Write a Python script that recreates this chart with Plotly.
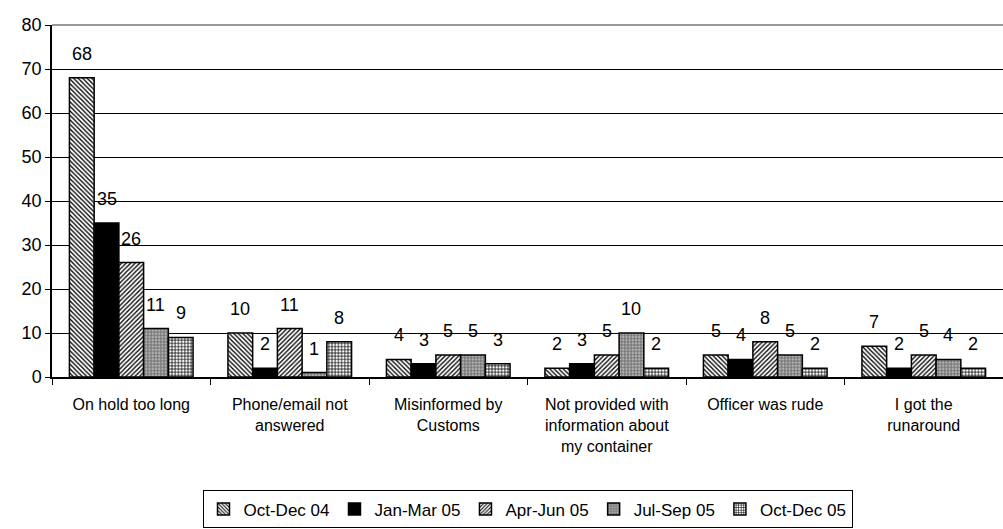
import plotly.graph_objects as go

categories = [
    "On hold too long",
    "Phone/email not<br>answered",
    "Misinformed by<br>Customs",
    "Not provided with<br>information about<br>my container",
    "Officer was rude",
    "I got the<br>runaround",
]

series_names = ["Oct-Dec 04", "Jan-Mar 05", "Apr-Jun 05", "Jul-Sep 05", "Oct-Dec 05"]

oct_dec_04 = [68, 10, 4, 2, 5, 7]
jan_mar_05 = [35, 2, 3, 3, 4, 2]
apr_jun_05 = [26, 11, 5, 5, 8, 5]
jul_sep_05 = [11, 1, 5, 10, 5, 4]
oct_dec_05 = [9, 8, 3, 2, 2, 2]

series_values = [oct_dec_04, jan_mar_05, apr_jun_05, jul_sep_05, oct_dec_05]

# fill styles per series: (pattern shape, background, foreground)
styles = [
    ("\\", "white", "black"),
    ("", "black", "black"),
    ("/", "white", "black"),
    (".", "#7a7a7a", "#b4b4b4"),
    ("+", "white", "black"),
]

BARGAP = 0.22
n_series = len(series_names)
bar_w = (1 - BARGAP) / n_series

fig = go.Figure()
for s, (name, vals, (shape, bg, fg)) in enumerate(zip(series_names, series_values, styles)):
    marker = dict(color=bg, line=dict(color="black", width=1.5))
    if shape:
        marker["pattern"] = dict(shape=shape, bgcolor=bg, fgcolor=fg,
                                 fillmode="replace", size=3.2, solidity=0.4)
    fig.add_trace(go.Bar(name=name, x=categories, y=vals, marker=marker))

    # value labels floating a little above each bar
    offset = (s - (n_series - 1) / 2) * bar_w
    for c, v in enumerate(vals):
        fig.add_annotation(
            x=c + offset, y=v, xref="x", yref="y", text=str(v),
            showarrow=False, yanchor="bottom", yshift=12,
            font=dict(family="Liberation Sans, Arial", size=18, color="black"),
        )

# light frame line along the top of the plot area
fig.add_shape(type="line", xref="paper", yref="paper", x0=0, x1=1, y0=1, y1=1,
              line=dict(color="#999999", width=2), layer="above")

fig.update_layout(
    width=1003, height=529,
    margin=dict(l=52, r=0, t=25, b=150),
    paper_bgcolor="white", plot_bgcolor="white",
    barmode="group", bargap=BARGAP, bargroupgap=0,
    font=dict(family="Liberation Sans, Arial", size=17, color="black"),
    xaxis=dict(
        showline=True, linecolor="black", linewidth=1.5,
        ticks="outside", tickson="boundaries", ticklen=6, tickcolor="black",
        tickfont=dict(size=16), showgrid=False, ticklabelstandoff=12,
    ),
    yaxis=dict(
        range=[0, 80], dtick=10, showline=True, linecolor="black", linewidth=1.5,
        ticks="outside", ticklen=5, tickcolor="black",
        showgrid=True, gridcolor="black", gridwidth=1,
        tickfont=dict(size=18), zeroline=False,
    ),
    legend=dict(
        orientation="h", x=0.5, xanchor="center", y=-0.322, yanchor="top",
        bordercolor="black", borderwidth=1, font=dict(size=17),
        itemwidth=30,
    ),
)

fig.write_html("out.html")
